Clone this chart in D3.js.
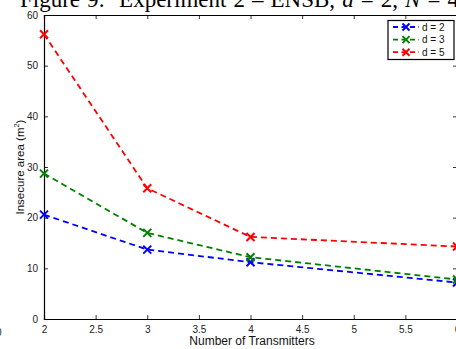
<!DOCTYPE html>
<html><head><meta charset="utf-8">
<script src="https://cdn.jsdelivr.net/npm/d3@7"></script>
<style>body{margin:0;background:#fff;overflow:hidden}svg{display:block}</style>
</head><body>
<svg id="c" width="456" height="349"></svg>
<script>
const transmitters = [2, 3, 4, 6];
const seriesNames = ["d = 2", "d = 3", "d = 5"];
const seriesColors = ["#0000ff", "#008000", "#ff0000"];
const areaD2 = [20.6, 13.7, 11.2, 7.2];
const areaD3 = [28.7, 17.0, 12.2, 7.8];
const areaD5 = [56.2, 25.8, 16.2, 14.3];
const xTicks = [2, 2.5, 3, 3.5, 4, 4.5, 5, 5.5, 6];
const yTicks = [0, 10, 20, 30, 40, 50, 60];

const series = [areaD2, areaD3, areaD5];
const svg = d3.select("#c");
const font = "Liberation Sans, Arial, Helvetica, sans-serif";
const L = 44, R = 457, T = 15, B = 319;
const x = d3.scaleLinear().domain([2, 6]).range([L, R]);
const y = d3.scaleLinear().domain([0, 60]).range([B, T]);

// title
const title = svg.append("text").attr("x", 20).attr("y", 7).attr("xml:space", "preserve")
  .style("white-space", "pre").style("word-spacing", "1.3px")
  .attr("font-family", "Liberation Serif, Times New Roman, serif").attr("font-size", 23).attr("fill", "#000");
title.append("tspan").text("Figure 9:  Experiment 2 \u2013 ENSB, ");
title.append("tspan").attr("font-style", "italic").text("d");
title.append("tspan").text(" = 2, ");
title.append("tspan").attr("font-style", "italic").text("N");
title.append("tspan").text(" = 4");

// axes
const tickLen = 4;
const gx = svg.append("g").attr("transform", `translate(0,${B})`)
  .call(d3.axisBottom(x).tickValues(xTicks).tickSize(-tickLen).tickPadding(6).tickFormat(d3.format("")));
const gxt = svg.append("g").attr("transform", `translate(0,${T})`)
  .call(d3.axisTop(x).tickValues(xTicks).tickSize(-tickLen).tickFormat(""));
const gy = svg.append("g").attr("transform", `translate(${L},0)`)
  .call(d3.axisLeft(y).tickValues(yTicks).tickSize(-tickLen).tickPadding(6));
const gyr = svg.append("g").attr("transform", `translate(${R},0)`)
  .call(d3.axisRight(y).tickValues(yTicks).tickSize(-tickLen).tickFormat(""));
[gx, gxt, gy, gyr].forEach(g => {
  g.select(".domain").attr("stroke", "#000").attr("stroke-width", 1.2);
  g.selectAll(".tick line").attr("stroke", "#000").attr("stroke-width", 0.8);
  g.selectAll("text").attr("font-family", font).attr("font-size", 10).attr("fill", "#222");
});
gx.selectAll(".tick text").attr("dy", "0.71em").attr("y", 7);
gy.selectAll(".tick text").attr("x", -6);

// partial label at left edge
svg.append("text").attr("x", -4).attr("y", 336).attr("font-family", font).attr("font-size", 10).attr("fill", "#222").text("0");

// axis labels
svg.append("text").attr("x", 252).attr("y", 345).attr("text-anchor", "middle")
  .attr("font-family", font).attr("font-size", 12).attr("fill", "#111").text("Number of Transmitters");
const yl = svg.append("text").attr("transform", "translate(24,167) rotate(-90)").attr("text-anchor", "middle")
  .attr("font-family", font).attr("font-size", 11.5).attr("fill", "#111");
yl.append("tspan").text("Insecure area (m");
yl.append("tspan").attr("font-size", 7.5).attr("dy", -5).text("2");
yl.append("tspan").attr("dy", 5).text(")");

// lines
const line = d3.line().x((d, i) => x(transmitters[i])).y(d => y(d));
const markerPath = s => `M${-s},${-s}L${s},${s}M${-s},${s}L${s},${-s}`;
series.forEach((s, k) => {
  svg.append("path").datum(s).attr("d", line).attr("fill", "none")
    .attr("stroke", seriesColors[k]).attr("stroke-width", 1.8).attr("stroke-dasharray", "6,4");
  svg.append("g").selectAll("path").data(s).join("path")
    .attr("transform", (d, i) => `translate(${x(transmitters[i])},${y(d)})`)
    .attr("d", markerPath(4)).attr("stroke", seriesColors[k]).attr("stroke-width", 2).attr("fill", "none");
});

// legend
const lg = svg.append("g");
lg.append("rect").attr("x", 388).attr("y", 20.5).attr("width", 66).attr("height", 39)
  .attr("fill", "#fff").attr("stroke", "#000").attr("stroke-width", 1.2);
seriesNames.forEach((n, k) => {
  const yy = 27 + k * 12.6;
  lg.append("line").attr("x1", 393).attr("x2", 419).attr("y1", yy).attr("y2", yy)
    .attr("stroke", seriesColors[k]).attr("stroke-width", 1.8).attr("stroke-dasharray", "5,3.5");
  lg.append("path").attr("transform", `translate(406,${yy})`).attr("d", markerPath(3.5))
    .attr("stroke", seriesColors[k]).attr("stroke-width", 2);
  lg.append("text").attr("x", 422).attr("y", yy + 3.5).attr("font-family", font).attr("font-size", 10)
    .attr("fill", "#111").text(n);
});
</script>
</body></html>
